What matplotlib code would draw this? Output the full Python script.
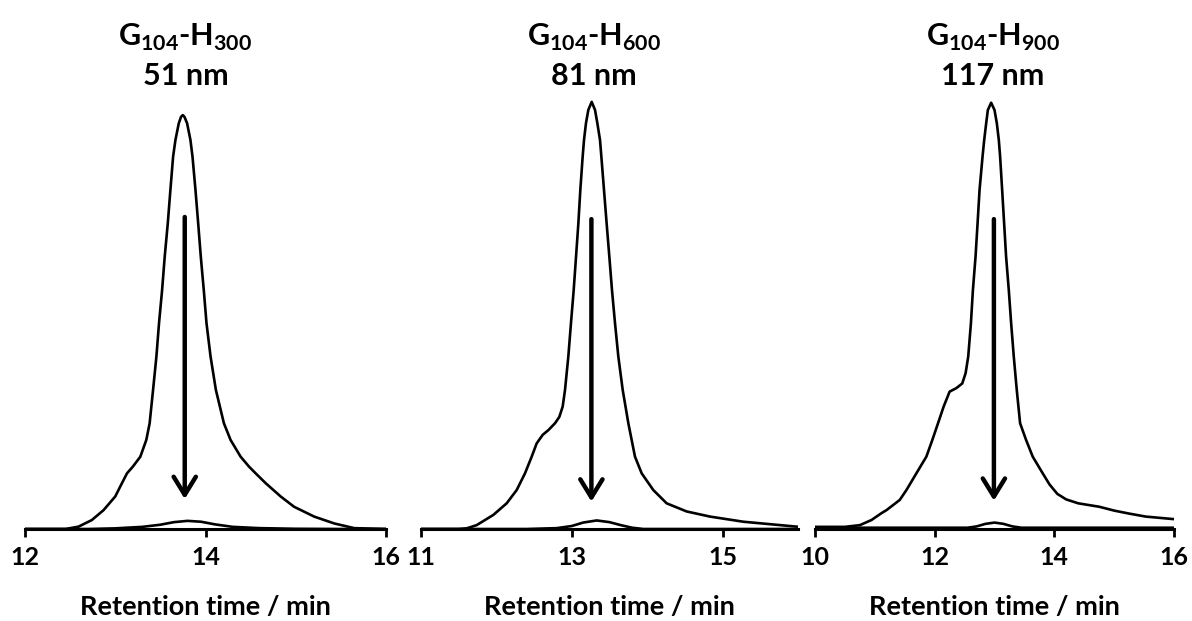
import matplotlib
matplotlib.use("Agg")
import matplotlib.pyplot as plt
import matplotlib.transforms as mtransforms
import numpy as np

plt.rcParams['font.family'] = ['Lato', 'DejaVu Sans']
plt.rcParams['font.weight'] = 'bold'
plt.rcParams['mathtext.fontset'] = 'custom'
plt.rcParams['mathtext.rm'] = 'Lato:bold'
plt.rcParams['mathtext.bf'] = 'Lato:bold'

# ---- data (retention time / min, relative intensity) ----
samples = ['G$_{104}$-H$_{300}$', 'G$_{104}$-H$_{600}$', 'G$_{104}$-H$_{900}$']
sizes = ['51 nm', '81 nm', '117 nm']

t_before_300 = [12.0, 12.45, 12.593, 12.741, 12.870, 13.000, 13.074, 13.130, 13.196, 13.278, 13.344, 13.381,
                13.419, 13.456, 13.485, 13.519, 13.548, 13.582, 13.611, 13.641, 13.667, 13.704, 13.729, 13.748,
                13.767, 13.796, 13.833, 13.856, 13.889, 13.919, 13.948, 13.981, 14.011, 14.056, 14.115, 14.204,
                14.278, 14.389, 14.481, 14.556, 14.667, 14.833, 14.981, 15.204, 15.426, 15.648, 16.0]
i_before_300 = [0.0, 0.0, 0.55, 2.1, 4.4, 7.6, 10.7, 13.0, 14.6, 16.9, 20.8, 24.7,
                32.5, 40.3, 48.1, 55.8, 63.6, 71.4, 79.2, 87.0, 90.9, 94.8, 96.3, 96.7,
                96.3, 94.8, 90.9, 87.0, 79.2, 71.4, 63.6, 55.8, 48.1, 40.3, 32.5, 24.7,
                20.8, 16.9, 14.6, 13.0, 10.7, 7.6, 5.2, 2.9, 1.3, 0.2, 0.0]
t_after_300 = [12.0, 12.7, 13.0, 13.3, 13.5, 13.65, 13.8, 13.95, 14.1, 14.3, 14.6, 15.0, 15.5, 16.0]
i_after_300 = [0.0, 0.0, 0.15, 0.5, 1.0, 1.6, 1.9, 1.7, 1.1, 0.5, 0.2, 0.05, 0.0, 0.0]

t_before_600 = [11.0, 11.5, 11.606, 11.738, 11.960, 12.136, 12.269, 12.379, 12.468, 12.534, 12.614, 12.689,
                12.777, 12.835, 12.879, 12.910, 12.954, 12.989, 13.025, 13.056, 13.087, 13.113, 13.144, 13.162,
                13.188, 13.219, 13.264, 13.308, 13.339, 13.374, 13.392, 13.427, 13.462, 13.498, 13.533, 13.573,
                13.617, 13.675, 13.750, 13.838, 13.927, 14.081, 14.258, 14.523, 14.833, 15.275, 15.982]
i_before_600 = [0.0, 0.0, 0.15, 0.9, 3.3, 6.0, 9.1, 13.0, 16.9, 20.0, 22.0, 23.1,
                24.7, 26.2, 28.6, 32.5, 40.3, 48.1, 55.8, 63.6, 71.4, 79.2, 87.0, 90.9,
                94.8, 97.9, 99.8, 97.9, 94.8, 90.9, 87.0, 79.2, 71.4, 63.6, 55.8, 48.1,
                40.3, 32.5, 24.7, 16.9, 13.0, 9.1, 6.0, 4.1, 2.9, 1.7, 0.55]
t_after_600 = [11.0, 12.4, 12.8, 13.0, 13.15, 13.33, 13.5, 13.65, 13.8, 13.95, 16.0]
i_after_600 = [0.0, 0.0, 0.2, 0.7, 1.5, 2.0, 1.6, 0.9, 0.3, 0.0, 0.0]

t_before_900 = [10.0, 10.5, 10.75, 10.944, 11.111, 11.194, 11.306, 11.417, 11.528, 11.694, 11.861, 11.961,
                12.056, 12.150, 12.250, 12.361, 12.461, 12.517, 12.561, 12.606, 12.639, 12.683, 12.717, 12.750,
                12.800, 12.828, 12.861, 12.889, 12.944, 13.0, 13.039, 13.072, 13.094, 13.128, 13.161, 13.194,
                13.239, 13.278, 13.322, 13.372, 13.428, 13.528, 13.639, 13.806, 13.92, 14.05, 14.2, 14.4,
                14.75, 15.0, 15.25, 15.528, 16.0]
i_before_900 = [0.5, 0.5, 0.9, 2.1, 3.7, 4.4, 5.6, 6.8, 9.1, 13.0, 16.9, 20.8,
                24.7, 28.6, 32.1, 32.9, 34.0, 36.4, 40.3, 48.1, 55.8, 63.6, 71.4, 79.2,
                87.0, 90.9, 94.8, 97.9, 99.6, 97.9, 94.8, 90.9, 87.0, 79.2, 71.4, 63.6,
                55.8, 48.1, 40.3, 32.5, 24.7, 20.8, 16.9, 13.0, 10.4, 8.2, 6.9, 6.0,
                5.2, 4.3, 3.6, 2.9, 2.3]
t_after_900 = [10.0, 12.55, 12.7, 12.85, 13.0, 13.15, 13.3, 13.45, 16.0]
i_after_900 = [0.3, 0.3, 0.6, 1.2, 1.5, 1.2, 0.6, 0.3, 0.3]

t_before = [t_before_300, t_before_600, t_before_900]
i_before = [i_before_300, i_before_600, i_before_900]
t_after = [t_after_300, t_after_600, t_after_900]
i_after = [i_after_300, i_after_600, i_after_900]

arrow_time = [13.77, 13.26, 12.99]
arrow_from = [72.9, 72.4, 72.4]
arrow_to = [7.0, 6.4, 6.6]

x_limits = [(12, 16), (11, 16), (10, 16)]
x_ticks = [[12, 14, 16], [11, 13, 15], [10, 12, 14, 16]]

# ---- layout ----
fig = plt.figure(figsize=(11.92, 6.21), dpi=100)
lefts = [25, 421, 815]
rights = [386, 798, 1174]
W, H = 1192, 621
bottom = (H - 529) / H
height = (529 - 90) / H

for k in range(3):
    ax = fig.add_axes([lefts[k] / W, bottom, (rights[k] - lefts[k]) / W, height])
    ax.plot(t_before[k], i_before[k], color='black', lw=1.9, solid_joinstyle='round')
    ax.plot(t_after[k], i_after[k], color='black', lw=1.9, solid_joinstyle='round')
    ax.annotate('', xy=(arrow_time[k], arrow_to[k]), xytext=(arrow_time[k], arrow_from[k]),
                arrowprops=dict(arrowstyle='->,head_length=0.65,head_width=0.4', lw=3.2,
                                color='black', mutation_scale=20, shrinkA=0, shrinkB=0))

    ax.set_xlim(*x_limits[k])
    ax.set_ylim(0, (529 - 90) / 4.28)
    ax.set_xticks(x_ticks[k])
    ax.set_yticks([])
    for side in ['top', 'right', 'left']:
        ax.spines[side].set_visible(False)
    ax.spines['bottom'].set_linewidth(2.2)
    ax.tick_params(axis='x', direction='out', length=6, width=2.0, pad=6, labelsize=18)
    ax.set_xlabel('Retention time / min', fontsize=19.5, fontweight='bold', labelpad=19)
    ax.patch.set_alpha(0)

    peak_t = t_before[k][int(np.argmax(i_before[k]))]
    trans = mtransforms.blended_transform_factory(ax.transData, fig.transFigure)
    ax.text(peak_t + 0.03, (H - 37) / H, samples[k], transform=trans, ha='center', va='center',
            fontsize=22, fontweight='bold')
    ax.text(peak_t + 0.03, (H - 76) / H, sizes[k], transform=trans, ha='center', va='center',
            fontsize=22, fontweight='bold')

fig.savefig('out.png', dpi=100)
